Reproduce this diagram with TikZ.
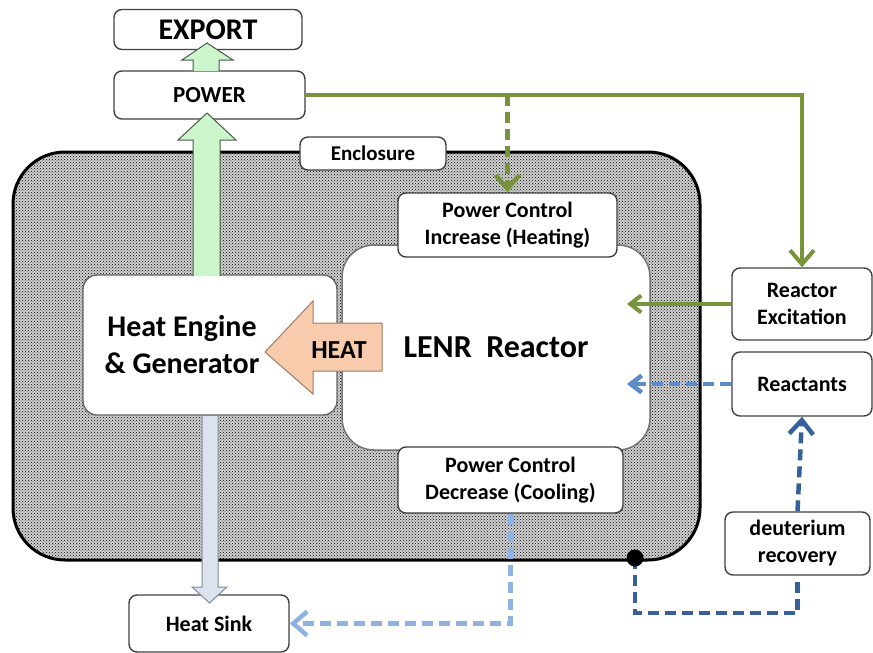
\documentclass[tikz,border=0pt]{standalone}
\usepackage{fontspec}
\setmainfont{Carlito}
\usetikzlibrary{arrows.meta,calc,patterns}
\definecolor{pgreen}{HTML}{77933C}
\definecolor{gfill}{HTML}{CCF5CC}
\definecolor{gedge}{HTML}{4A5A4A}
\definecolor{hfill}{HTML}{F8CBAD}
\definecolor{hedge}{HTML}{A07C62}
\definecolor{sfill}{HTML}{DCE3EE}
\definecolor{sedge}{HTML}{7F8A9C}
\definecolor{lblue}{HTML}{8DB3E2}
\definecolor{mblue}{HTML}{5B8BC9}
\definecolor{dblue}{HTML}{36609A}
\tikzset{
  box/.style={draw=black!75, line width=1.4pt, fill=white, rounded corners=8pt,
    font=\bfseries\fontsize{22}{27}\selectfont, align=center, inner sep=0pt},
  blockarrow/.style={line width=1pt, line join=miter},
  cline/.style={line width=4pt},
  dashline/.style={line width=4.5pt, dash pattern=on 11pt off 6pt},
  bigtip/.style={-{Straight Barb[length=14pt,width=24pt]}},
  smalltip/.style={-{Straight Barb[length=11pt,width=17pt]}},
}
\begin{document}
\begin{tikzpicture}[x=1pt,y=-1pt]
\useasboundingbox (0,0) rectangle (873,653);

% enclosure
\node[draw=black, line width=3pt, rounded corners=52pt, minimum width=687pt,
  minimum height=408pt, preaction={fill=black!18}, pattern=crosshatch dots, inner sep=0pt] (encl) at (356.5,356) {};

% reactor
\node[fill=white, draw=black!55, line width=1.5pt, rounded corners=32pt,
  minimum width=308pt, minimum height=205pt, inner sep=0pt,
  font=\bfseries\fontsize{32}{38}\selectfont] (lenr) at (496,347.5) {\raisebox{-4pt}{LENR~~Reactor}};

% heat engine
\node[draw=black!60, line width=1.4pt, fill=white, rounded corners=14pt,
  minimum width=254pt, minimum height=140pt, inner sep=0pt] (he) at (210,345) {};
\node[font=\bfseries\fontsize{30}{37}\selectfont, align=center, inner sep=0pt] (hetext) at (182,345) {Heat Engine\\\& Generator};

% boxes
\node[box, minimum width=188pt, minimum height=40pt, font=\bfseries\fontsize{30}{36}\selectfont] (export) at (208,29.5) {EXPORT};
\node[box, minimum width=191pt, minimum height=48pt, font=\bfseries\fontsize{23}{27}\selectfont] (power) at (209.5,95) {POWER};
\node[box, minimum width=146pt, minimum height=33pt, font=\bfseries\fontsize{21}{25}\selectfont] (enclabel) at (373,153.5) {Enclosure};
\node[box, minimum width=219pt, minimum height=64pt] (inc) at (507.5,225) {Power Control\\Increase (Heating)};
\node[box, minimum width=225pt, minimum height=66pt] (dec) at (510.5,480) {Power Control\\Decrease (Cooling)};
\node[box, minimum width=140pt, minimum height=72pt] (exc) at (802,304) {Reactor\\Excitation};
\node[box, minimum width=140pt, minimum height=64pt] (reac) at (802,384) {Reactants};
\node[box, minimum width=145pt, minimum height=63pt] (deut) at (797.5,543.5) {deuterium\\recovery};
\node[box, minimum width=160pt, minimum height=57pt] (hs) at (209,623.5) {Heat Sink};

% block arrows
\draw[blockarrow, fill=gfill, draw=gedge] (193,276) -- (193,140) -- (178,140) -- (207,113) -- (236,140) -- (220,140) -- (220,276);
\draw[blockarrow, fill=gfill, draw=gedge] (193,71) -- (193,60) -- (182,60) -- (207,43) -- (233,60) -- (219,60) -- (219,71);
\draw[blockarrow, fill=sfill, draw=sedge] (202,416) -- (202,587) -- (192,587) -- (209.5,603) -- (227,587) -- (218,587) -- (218,416);
\draw[blockarrow, fill=hfill, draw=hedge] (265,352) -- (313,301) -- (313,323) -- (382,323) -- (382,371) -- (313,371) -- (313,394) -- cycle;
\node[font=\bfseries\fontsize{26}{30}\selectfont, inner sep=0pt] (heat) at (339,350) {HEAT};

% connectors
\draw[cline, draw=pgreen, bigtip] (power.east) -| (exc.north);
\coordinate (brk) at (inc.north |- power.east);
\draw[dashline, draw=pgreen, bigtip] (brk) -- (inc.north);
\coordinate (exctip) at (627,304);
\draw[cline, draw=pgreen, smalltip] (exc.west) -- (exctip);
\coordinate (reactip) at (627,384);
\draw[dashline, draw=mblue, smalltip] (reac.west) -- (reactip);
\draw[dashline, draw=lblue, bigtip] (dec.south) |- (hs.east);
\coordinate (dbcorner) at (635,613);
\coordinate (dotc) at (635,558);
\draw[dashline, draw=dblue] (dotc) -- (dbcorner) -| (deut.south);
\node[circle, fill=black, inner sep=0pt, minimum size=17pt] (dot) at (dotc) {};
\draw[dashline, draw=dblue, bigtip] (deut.north) -- (reac.south);
\end{tikzpicture}
\end{document}
